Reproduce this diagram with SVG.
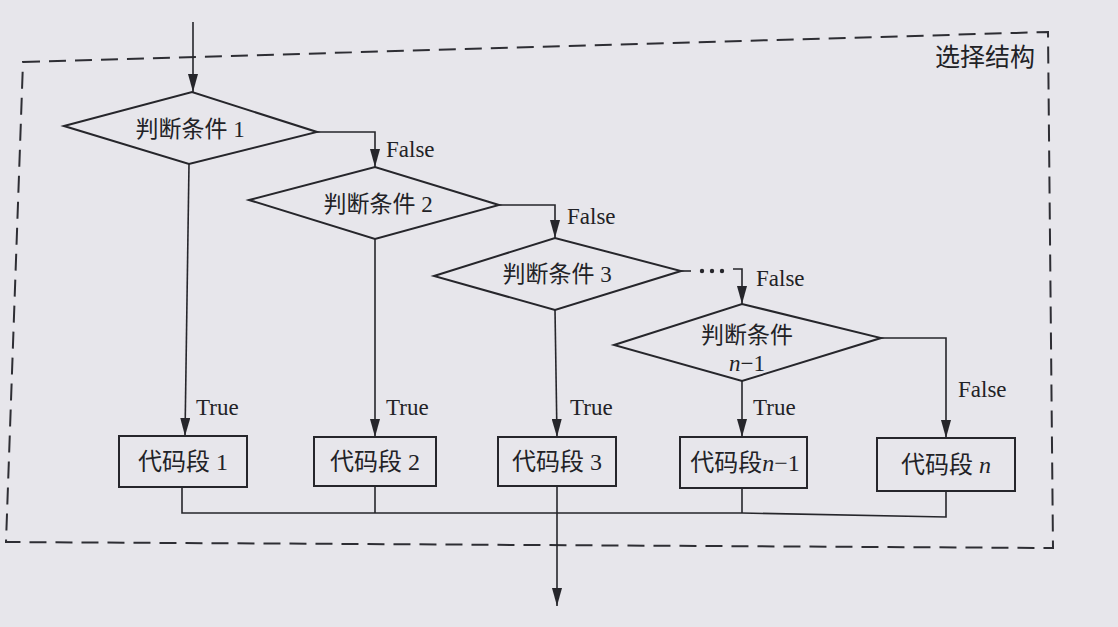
<svg xmlns="http://www.w3.org/2000/svg" width="1118" height="627" viewBox="0 0 1118 627">
<style>
.shape{fill:none;stroke:#26262b;stroke-width:2}
.line{fill:none;stroke:#26262b;stroke-width:1.6}
.frame{fill:none;stroke:#2e2e34;stroke-width:2;stroke-dasharray:17 9}
.cn{font-family:"Liberation Serif","Noto Sans CJK SC",serif;font-size:23px;fill:#222226;text-anchor:middle}
.box{font-size:24px}
.lbl{font-family:"Liberation Serif",serif;font-size:23px;fill:#222226}
.it{font-style:italic}
</style>
<defs>
<marker id="arr" markerUnits="userSpaceOnUse" markerWidth="18" markerHeight="10" refX="18" refY="5" orient="auto">
<path d="M0,0 L18,5 L0,10 z" fill="#26262b"/>
</marker>
</defs>
<rect width="1118" height="627" fill="#e7e6eb"/>
<g id="frame">
<path class="frame" d="M23,62 L1048,32 L1053,548 L6,542 Z"/>
<text x="985" y="66" class="cn" style="font-size:25px">选择结构</text>
</g>
<g id="connectors">
<line class="line" x1="193" y1="22" x2="193" y2="92" marker-end="url(#arr)"/>
<polyline class="line" points="317,132 375,132 375,167" marker-end="url(#arr)"/>
<polyline class="line" points="499,205 555,205 555,238" marker-end="url(#arr)"/>
<line class="line" x1="681" y1="271" x2="691" y2="271"/>
<circle cx="702" cy="271" r="2.2" fill="#26262b"/>
<circle cx="712" cy="271" r="2.2" fill="#26262b"/>
<circle cx="722" cy="271" r="2.2" fill="#26262b"/>
<polyline class="line" points="733,269 742,269 742,304" marker-end="url(#arr)"/>
<polyline class="line" points="881,338 946,338 946,438" marker-end="url(#arr)"/>
<line class="line" x1="189" y1="164" x2="185" y2="436" marker-end="url(#arr)"/>
<line class="line" x1="375" y1="239" x2="375" y2="437" marker-end="url(#arr)"/>
<line class="line" x1="555" y1="310" x2="557" y2="437" marker-end="url(#arr)"/>
<line class="line" x1="742" y1="381" x2="742" y2="437" marker-end="url(#arr)"/>
<polyline class="line" points="182,487 182,513 742,513 946,517 946,491"/>
<line class="line" x1="375" y1="486" x2="375" y2="513"/>
<line class="line" x1="742" y1="488" x2="742" y2="513"/>
<line class="line" x1="557" y1="486" x2="557" y2="606" marker-end="url(#arr)"/>
<text x="386" y="157" class="lbl">False</text>
<text x="567" y="224" class="lbl">False</text>
<text x="756" y="286" class="lbl">False</text>
<text x="958" y="397" class="lbl">False</text>
<text x="196" y="415" class="lbl">True</text>
<text x="386" y="415" class="lbl">True</text>
<text x="570" y="415" class="lbl">True</text>
<text x="753" y="415" class="lbl">True</text>
</g>
<g id="cond1">
<polygon class="shape" points="64,126 192,92 317,132 189,164"/>
<text x="190" y="137" class="cn">判断条件 1</text>
</g>
<g id="cond2">
<polygon class="shape" points="249,200 375,167 499,205 375,239"/>
<text x="378" y="212" class="cn">判断条件 2</text>
</g>
<g id="cond3">
<polygon class="shape" points="434,276 555,238 681,271 555,310"/>
<text x="557" y="282" class="cn">判断条件 3</text>
</g>
<g id="condn1">
<polygon class="shape" points="614,345 742,304 881,338 742,381"/>
<text x="747" y="343" class="cn">判断条件</text>
<text x="747" y="371" class="cn"><tspan class="it">n</tspan>−1</text>
</g>
<g id="code1">
<rect class="shape" x="119" y="436" width="128" height="51"/>
<text x="183" y="470" class="cn box">代码段 1</text>
</g>
<g id="code2">
<rect class="shape" x="314" y="437" width="122" height="49"/>
<text x="375" y="470" class="cn box">代码段 2</text>
</g>
<g id="code3">
<rect class="shape" x="498" y="437" width="118" height="49"/>
<text x="557" y="470" class="cn box">代码段 3</text>
</g>
<g id="coden1">
<rect class="shape" x="680" y="437" width="127" height="51"/>
<text x="745" y="471" class="cn box">代码段<tspan class="it">n</tspan>−1</text>
</g>
<g id="coden">
<rect class="shape" x="877" y="438" width="138" height="53"/>
<text x="946" y="473" class="cn box">代码段 <tspan class="it">n</tspan></text>
</g>
</svg>
